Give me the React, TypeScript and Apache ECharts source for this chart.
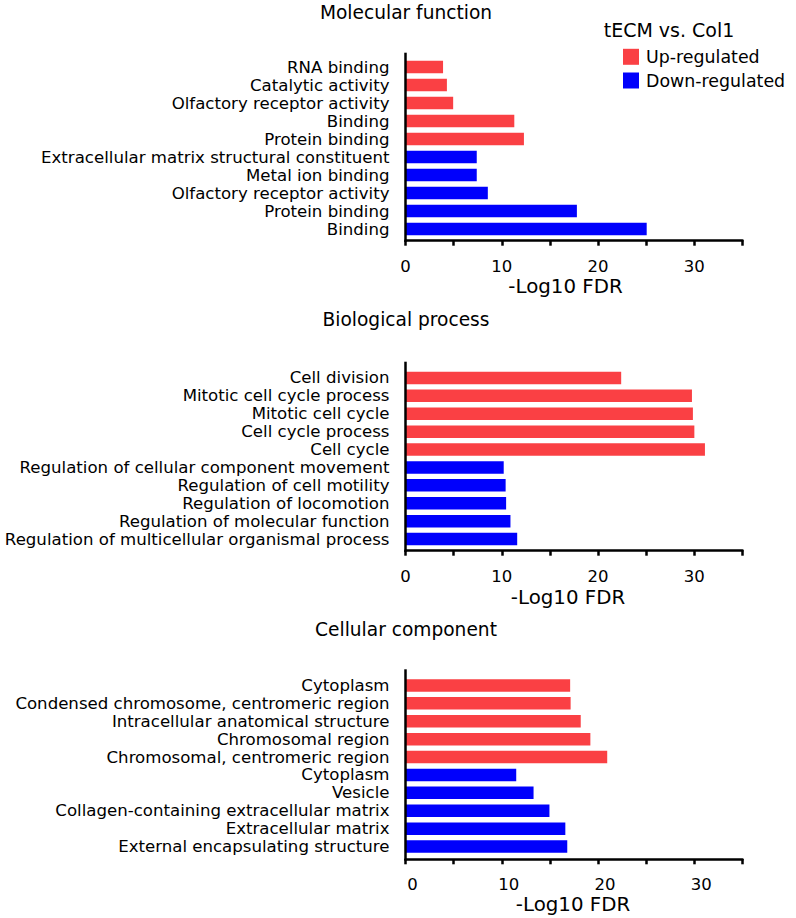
import React, { useEffect, useRef } from "react";
import * as echarts from "echarts";

// ---------- data ----------
const mfCategories = [
  "RNA binding",
  "Catalytic activity",
  "Olfactory receptor activity",
  "Binding",
  "Protein binding",
  "Extracellular matrix structural constituent",
  "Metal ion binding",
  "Olfactory receptor activity",
  "Protein binding",
  "Binding",
];
const mfUp = [3.9, 4.3, 4.95, 11.3, 12.3];
const mfDown = [7.4, 7.4, 8.55, 17.8, 25.05];

const bpCategories = [
  "Cell division",
  "Mitotic cell cycle process",
  "Mitotic cell cycle",
  "Cell cycle process",
  "Cell cycle",
  "Regulation of cellular component movement",
  "Regulation of cell motility",
  "Regulation of locomotion",
  "Regulation of molecular function",
  "Regulation of multicellular organismal process",
];
const bpUp = [22.4, 29.75, 29.85, 30.0, 31.1];
const bpDown = [10.2, 10.4, 10.45, 10.9, 11.6];

const ccCategories = [
  "Cytoplasm",
  "Condensed chromosome, centromeric region",
  "Intracellular anatomical structure",
  "Chromosomal region",
  "Chromosomal, centromeric region",
  "Cytoplasm",
  "Vesicle",
  "Collagen-containing extracellular matrix",
  "Extracellular matrix",
  "External encapsulating structure",
];
const ccUp = [17.1, 17.15, 18.2, 19.2, 20.95];
const ccDown = [11.5, 13.3, 14.95, 16.6, 16.8];

const panelTitles = ["Molecular function", "Biological process", "Cellular component"];
const tickLabels = [0, 10, 20, 30];
const axisName = "-Log10 FDR";
const legendTitle = "tECM vs. Col1";
const seriesNames = ["Up-regulated", "Down-regulated"];

// ---------- style / layout ----------
const FONT = "DejaVu Sans, sans-serif";
const RED = "#fa4044";
const BLUE = "#0000fc";
const GRID_LEFT = 405.5;
const GRID_WIDTH = 337;

const panels = [
  { cats: mfCategories, up: mfUp, down: mfDown, top: 58, height: 180, offset: 2.7, vTop: 52.7,
    titleY: 12.5, labelPad: [0, 0, 4, 0], tickPad: [0, 0, 0, 0], namePad: [0, 17, 0, 0], nameGap: 37.8 },
  { cats: bpCategories, up: bpUp, down: bpDown, top: 369, height: 179, offset: 2.7, vTop: 361.7,
    titleY: 319.5, labelPad: [6, 0, 0, 0], tickPad: [0, 0, 0, 0], namePad: [0, 12, 0, 0], nameGap: 39 },
  { cats: ccCategories, up: ccUp, down: ccDown, top: 676.5, height: 179, offset: 3.8, vTop: 669.3,
    titleY: 629.5, labelPad: [0, 0, 0, 0], tickPad: [0, 0, 0, 14], namePad: [0, 2, 0, 0], nameGap: 30.5 },
];

export default function App() {
  const ref = useRef<HTMLDivElement>(null);

  useEffect(() => {
    if (!ref.current) return;
    const chart = echarts.init(ref.current, undefined, { renderer: "svg" });

    const grids: any[] = [];
    const xAxes: any[] = [];
    const yAxes: any[] = [];
    const series: any[] = [];
    const graphics: any[] = [];

    panels.forEach((p, i) => {
      grids.push({ left: GRID_LEFT, width: GRID_WIDTH, top: p.top, height: p.height });
      xAxes.push({
        type: "value",
        gridIndex: i,
        min: 0,
        max: 35,
        interval: 5,
        offset: p.offset,
        splitLine: { show: false },
        axisLine: { show: true, lineStyle: { color: "#000", width: 2.5 } },
        axisTick: { show: true, length: 5, lineStyle: { color: "#000", width: 2.5 } },
        axisLabel: {
          margin: 19,
          color: "#000",
          fontSize: 16.5,
          lineHeight: 13,
          fontFamily: FONT,
          padding: p.tickPad,
          formatter: (v: number) => (tickLabels.includes(v) ? String(v) : ""),
        },
        name: axisName,
        nameLocation: "middle",
        nameGap: p.nameGap,
        nameTextStyle: { color: "#000", fontSize: 19.8, lineHeight: 15, fontFamily: FONT, padding: p.namePad },
      });
      yAxes.push({
        type: "category",
        gridIndex: i,
        inverse: true,
        data: p.cats,
        axisLine: { show: false },
        axisTick: { show: false },
        axisLabel: {
          margin: 16,
          color: "#000",
          fontSize: 16.6,
          lineHeight: 16,
          fontFamily: FONT,
          interval: 0,
          padding: p.labelPad,
        },
      });
      const n = p.up.length;
      series.push({
        name: seriesNames[0],
        type: "bar",
        xAxisIndex: i,
        yAxisIndex: i,
        stack: "s" + i,
        barWidth: 12.5,
        itemStyle: { color: RED },
        data: p.cats.map((_, k) => (k < n ? p.up[k] : "-")),
      });
      series.push({
        name: seriesNames[1],
        type: "bar",
        xAxisIndex: i,
        yAxisIndex: i,
        stack: "s" + i,
        barWidth: 12.5,
        itemStyle: { color: BLUE },
        data: p.cats.map((_, k) => (k >= n ? p.down[k - n] : "-")),
      });
      graphics.push({
        type: "text",
        x: 406,
        y: p.titleY,
        style: {
          text: panelTitles[i],
          fontSize: 18.6,
          lineHeight: 16,
          fontFamily: FONT,
          fill: "#000",
          align: "center",
          verticalAlign: "middle",
        },
      });
      graphics.push({
        type: "line",
        z: 100,
        shape: {
          x1: GRID_LEFT,
          y1: p.vTop,
          x2: GRID_LEFT,
          y2: p.top + p.height + p.offset + 1.25,
        },
        style: { stroke: "#000", lineWidth: 2.5 },
      });
    });

    graphics.push({
      type: "text",
      x: 669,
      y: 29.7,
      style: {
        text: legendTitle,
        fontSize: 19,
        lineHeight: 16,
        fontFamily: FONT,
        fill: "#000",
        align: "center",
        verticalAlign: "middle",
      },
    });

    chart.setOption({
      animation: false,
      backgroundColor: "#fff",
      grid: grids,
      xAxis: xAxes,
      yAxis: yAxes,
      series,
      graphic: graphics,
      legend: {
        data: seriesNames,
        orient: "vertical",
        left: 623,
        top: 48.3,
        padding: 0,
        itemWidth: 16,
        itemHeight: 16,
        itemGap: 6.7,
        icon: "rect",
        selectedMode: false,
        textStyle: {
          color: "#000",
          fontSize: 17.4,
          lineHeight: 16,
          fontFamily: FONT,
          padding: [0, 0, 0, 2],
        },
      },
    });

    return () => chart.dispose();
  }, []);

  return (
    <div
      ref={ref}
      style={{ position: "fixed", left: 0, top: 0, width: 796, height: 918, background: "#fff" }}
    />
  );
}
